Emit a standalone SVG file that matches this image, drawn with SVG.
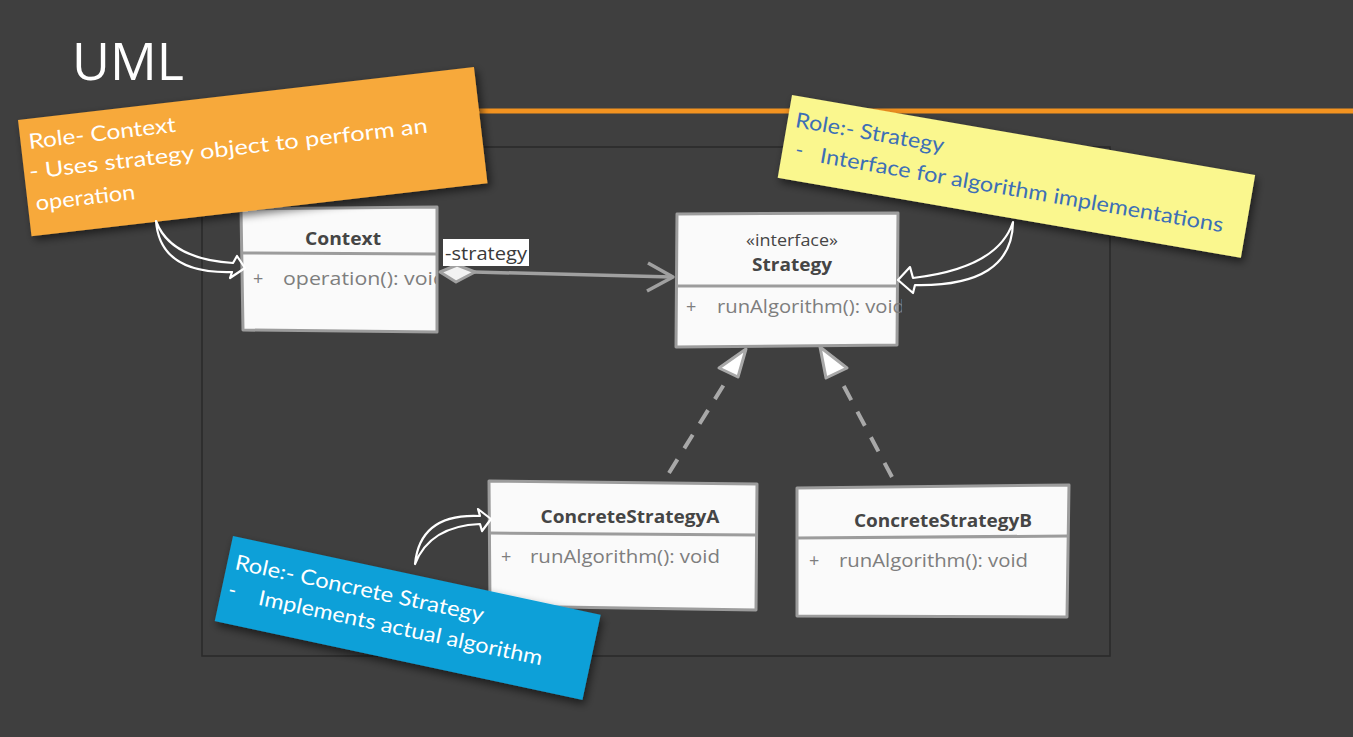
<svg xmlns="http://www.w3.org/2000/svg" width="1353" height="737" viewBox="0 0 1353 737">
<style>
.box{fill:#fafafa;stroke:#9c9c9c;stroke-width:3;stroke-linejoin:round}
.div{stroke:#9c9c9c;stroke-width:3;fill:none}
.title{font-family:"Open Sans","Noto Sans",sans-serif;font-weight:bold;font-size:18px;fill:#454545}
.stereo{font-family:"Open Sans","Noto Sans",sans-serif;font-size:17px;fill:#454545}
.mem{font-family:"Open Sans","Noto Sans",sans-serif;font-size:18px;fill:#7e7e7e}
.note{font-family:"Lato","Open Sans",sans-serif;font-size:21px}
.call{fill:none;stroke:#ffffff;stroke-width:2.2;stroke-linejoin:round}
.dash{stroke:#a8a8a8;stroke-width:4;stroke-dasharray:16 13;fill:none}
.tri{fill:#ffffff;stroke:#a8a8a8;stroke-width:3;stroke-linejoin:round}
</style>
<defs>
<filter id="sh" x="-10%" y="-20%" width="130%" height="150%">
<feDropShadow dx="3" dy="4" stdDeviation="4" flood-color="#000" flood-opacity="0.55"/>
</filter>
<clipPath id="clipCtx"><rect x="241" y="255" width="195" height="70"/></clipPath>
<clipPath id="clipStr"><rect x="677" y="288" width="225" height="50"/></clipPath>
</defs>
<rect x="0" y="0" width="1353" height="737" fill="#3f3f3f"/>
<line x1="470" y1="111" x2="1353" y2="111" stroke="#f39320" stroke-width="5"/>
<rect x="202" y="147" width="908" height="509" fill="none" stroke="#2a2a2a" stroke-width="1.5"/>
<text x="72" y="80" font-family="Open Sans, Noto Sans, sans-serif" font-size="52" fill="#ffffff">UML</text>

<g id="connectors">
<line x1="474" y1="272" x2="672" y2="277" stroke="#a0a0a0" stroke-width="3.5"/>
<polyline points="648,263 673,277 647,291" fill="none" stroke="#a0a0a0" stroke-width="3.5" stroke-linejoin="round"/>
<polygon points="440,272 457,265 475,272 456,282" fill="#f2f2f2" stroke="#a0a0a0" stroke-width="3" stroke-linejoin="round"/>
<rect x="443" y="239" width="86" height="27" fill="#ffffff"/>
<text x="445" y="260" font-family="Open Sans, Noto Sans, sans-serif" font-size="19" fill="#3a3a3a" textLength="82" lengthAdjust="spacingAndGlyphs">-strategy</text>
<line class="dash" x1="669" y1="473" x2="728" y2="378"/>
<polygon class="tri" points="746,349 738,377 719,368"/>
<line class="dash" x1="892" y1="477" x2="839" y2="377"/>
<polygon class="tri" points="820,347 847,368 826,378"/>
</g>

<g id="context">
<polygon class="box" points="241,209 437,207 437,332 243,330"/>
<line class="div" x1="242" y1="253" x2="437" y2="254"/>
<text class="title" x="343" y="245" text-anchor="middle" textLength="76" lengthAdjust="spacingAndGlyphs">Context</text>
<g clip-path="url(#clipCtx)">
<text class="mem" x="253" y="285">+</text>
<text class="mem" x="283" y="285" textLength="163" lengthAdjust="spacingAndGlyphs">operation(): void</text>
</g>
</g>

<g id="strategy">
<polygon class="box" points="677,214 898,213 897,345 676,347"/>
<line class="div" x1="677" y1="286" x2="898" y2="286"/>
<text class="stereo" x="792" y="246" text-anchor="middle" textLength="92" lengthAdjust="spacingAndGlyphs">«interface»</text>
<text class="title" x="792" y="271" text-anchor="middle" textLength="80" lengthAdjust="spacingAndGlyphs">Strategy</text>
<g clip-path="url(#clipStr)">
<text class="mem" x="686" y="313">+</text>
<text class="mem" x="717" y="313" textLength="188" lengthAdjust="spacingAndGlyphs">runAlgorithm(): void</text>
</g>
</g>

<g id="concreteStrategyA">
<polygon class="box" points="489,481 757,484 756,610 490,606"/>
<line class="div" x1="490" y1="533" x2="757" y2="535"/>
<text class="title" x="630" y="523" text-anchor="middle" textLength="179" lengthAdjust="spacingAndGlyphs">ConcreteStrategyA</text>
<text class="mem" x="501" y="563">+</text>
<text class="mem" x="530" y="563" textLength="190" lengthAdjust="spacingAndGlyphs">runAlgorithm(): void</text>
</g>

<g id="concreteStrategyB">
<polygon class="box" points="797,488 1069,485 1067,617 797,616"/>
<line class="div" x1="797" y1="538" x2="1069" y2="536"/>
<text class="title" x="943" y="527" text-anchor="middle" textLength="178" lengthAdjust="spacingAndGlyphs">ConcreteStrategyB</text>
<text class="mem" x="809" y="567">+</text>
<text class="mem" x="839" y="567" textLength="189" lengthAdjust="spacingAndGlyphs">runAlgorithm(): void</text>
</g>

<g id="note-context" transform="translate(18,120) rotate(-6.63)">
<rect x="0" y="0" width="459" height="117" fill="#f7a93b" filter="url(#sh)"/>
<text class="note" fill="#ffffff">
<tspan x="8" y="30" textLength="148" lengthAdjust="spacingAndGlyphs">Role- Context</tspan>
<tspan x="5" y="60" textLength="401" lengthAdjust="spacingAndGlyphs">- Uses strategy object to perform an</tspan>
<tspan x="8" y="92" textLength="100" lengthAdjust="spacingAndGlyphs">operation</tspan>
</text>
</g>

<g id="note-strategy" transform="translate(792,95) rotate(9.8)">
<rect x="0" y="0" width="470" height="84" fill="#faf78e" filter="url(#sh)"/>
<text class="note" fill="#3d6fb6">
<tspan x="8" y="31" textLength="150" lengthAdjust="spacingAndGlyphs">Role:- Strategy</tspan>
<tspan x="13" y="60">-</tspan>
<tspan x="38" y="62" textLength="409" lengthAdjust="spacingAndGlyphs">Interface for algorithm implementations</tspan>
</text>
</g>

<g id="note-concrete" transform="translate(233,536) rotate(12.1)">
<rect x="0" y="0" width="376" height="87" fill="#0ba0d8" filter="url(#sh)"/>
<text class="note" fill="#ffffff">
<tspan x="8" y="32" textLength="253" lengthAdjust="spacingAndGlyphs">Role:- Concrete Strategy</tspan>
<tspan x="7" y="60">-</tspan>
<tspan x="38" y="62" textLength="290" lengthAdjust="spacingAndGlyphs">Implements actual algorithm</tspan>
</text>
</g>

<g id="callouts">
<path class="call" d="M156,221 Q170,259 233,263 L237,256 L245,268 L230,278 L232,272 Q160,274 156,221 Z"/>
<path class="call" d="M1013,222 Q998,268 913,278 L910,267 L898,280 L913,293 L915,285 Q1012,287 1013,222 Z"/>
<path class="call" d="M415,564 Q420,513 480,516 L478,509 L491,519 L482,531 L480,524 Q430,526 415,564 Z"/>
</g>
</svg>
